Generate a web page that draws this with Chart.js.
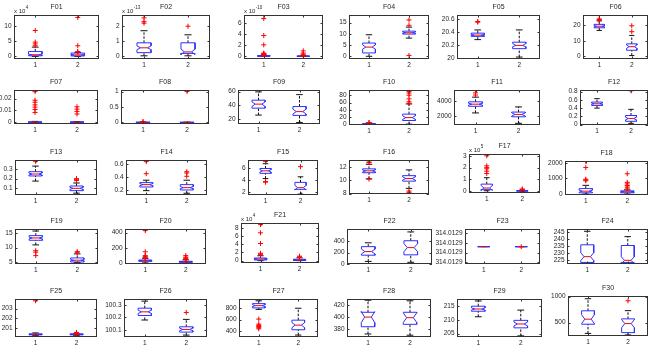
<!DOCTYPE html>
<html>
<head>
<meta charset="utf-8">
<script src="https://cdn.jsdelivr.net/npm/chart.js@4.4.1/dist/chart.umd.min.js"></script>
<style>
  html, body { margin: 0; padding: 0; background: #fff; }
  #fig { position: relative; width: 654px; height: 348px; overflow: hidden; }
  #fig canvas { position: absolute; }
</style>
</head>
<body>
<div id="fig"></div>
<script>
// ---- data ----
const titles = ['F01','F02','F03','F04','F05','F06','F07','F08','F09','F10',
                'F11','F12','F13','F14','F15','F16','F17','F18','F19','F20',
                'F21','F22','F23','F24','F25','F26','F27','F28','F29','F30'];
const groups = [1, 2];
const xTickLabels = ['1', '2'];
// "x 10^n" label above the axes (null = none)
const expLabels = ['4','-13','-10',null,null,null,
                   null,null,null,null,null,null,
                   null,null,null,null,'5',null,
                   null,null,'4',null,null,null,
                   null,null,null,null,null,null];
const yLimits = [
  [-0.85, 13.6], [-0.17, 2.74], [-0.48, 7.55], [-1.2, 18.4], [19.98, 20.661], [-1.7, 26.5],
  [-0.0014, 0.0272], [-0.05, 1.05], [13.1, 62.2], [-1.9, 94.4], [715, 5600], [-0.01, 0.84],
  [0.031, 0.393], [0.123, 0.66], [1.55, 7.42], [7.95, 13.1], [-0.14, 3.15], [-60, 2120],
  [4.3, 16.4], [-9, 446], [-0.57, 9.2], [0, 611], [314.0128883, 314.012924], [222.4, 247.2],
  [200.08, 203.98], [100.045, 100.347], [296, 962], [367, 430], [203.8, 217.5], [240, 1013]
];
const yTicks = [
  [0,5,10], [0,1,2], [0,2,4,6], [0,5,10,15], [20,20.2,20.4,20.6], [0,10,20],
  [0,0.01,0.02], [0,0.5,1], [20,40,60], [0,20,40,60,80], [2000,4000], [0,0.2,0.4,0.6,0.8],
  [0.1,0.2,0.3], [0.2,0.4,0.6], [2,4,6], [8,10,12], [0,1,2,3], [0,1000,2000],
  [5,10,15], [0,200,400], [0,2,4,6,8], [0,200,400], [314.01289,314.0129,314.01291,314.01292], [225,230,235,240,245],
  [201,202,203], [100.1,100.2,100.3], [400,600,800], [380,400,420], [205,210,215], [500,1000]
];
const tickDecimals = { F23: 4 };
// per panel, per group: [lower whisker, q1, notch low, median, notch high, q3, upper whisker]
const boxStats = [
  [[0, 0.2, 0.4, 0.55, 0.75, 1.6, 3.05], [0, 0.15, 0.3, 0.5, 0.65, 1.1, 1.3]],
  [[0.04, 0.25, 0.45, 0.57, 0.7, 0.9, 1.7], [0.04, 0.2, 0.12, 0.3, 0.48, 0.9, 1.43]],
  [[0, 0.02, 0.04, 0.06, 0.08, 0.12, 0.25], [0, 0.01, 0.02, 0.03, 0.04, 0.06, 0.12]],
  [[0, 1.5, 3.2, 4.1, 5.1, 5.9, 9.6], [8.1, 9.9, 10.2, 10.5, 10.8, 11.2, 13]],
  [[20.28, 20.33, 20.34, 20.35, 20.36, 20.38, 20.43], [20.01, 20.14, 20.17, 20.19, 20.22, 20.24, 20.43]],
  [[16.6, 18.3, 18.9, 19.3, 19.7, 20.5, 22.7], [0.5, 3.9, 5.1, 6.2, 7.3, 8, 13.4]],
  [[0, 0, 0, 0.0001, 0.0002, 0.0004, 0.0008], [0, 0, 0, 0.0001, 0.0002, 0.0004, 0.0007]],
  [[0, 0, 0, 0.003, 0.006, 0.008, 0.015], [0, 0, 0, 0.002, 0.004, 0.006, 0.012]],
  [[26, 36, 38.5, 41.8, 45, 47.5, 59.5], [15.3, 25.5, 27.5, 31, 34.5, 38.3, 55.5]],
  [[0, 0.3, 0.6, 1, 1.4, 2, 3.5], [0.5, 10.5, 13.5, 18.5, 23.5, 28, 56]],
  [[2400, 3330, 3500, 3620, 3740, 3950, 4600], [950, 1860, 1960, 2190, 2420, 2520, 3240]],
  [[0.4, 0.465, 0.49, 0.506, 0.522, 0.547, 0.63], [0.03, 0.08, 0.115, 0.147, 0.18, 0.22, 0.37]],
  [[0.175, 0.228, 0.238, 0.248, 0.258, 0.272, 0.33], [0.05, 0.076, 0.09, 0.1, 0.11, 0.124, 0.155]],
  [[0.19, 0.246, 0.266, 0.282, 0.298, 0.313, 0.35], [0.15, 0.2, 0.22, 0.236, 0.252, 0.282, 0.35]],
  [[4.3, 5.18, 5.4, 5.6, 5.8, 6.0, 6.8], [1.7, 2.5, 2.4, 2.78, 3.15, 3.67, 4.6]],
  [[10.25, 11.17, 11.3, 11.46, 11.6, 11.76, 12.45], [8.8, 9.9, 10.05, 10.3, 10.55, 10.73, 11.6]],
  [[0.05, 0.14, 0.08, 0.28, 0.5, 0.61, 1.15], [0, 0.02, 0.03, 0.04, 0.05, 0.06, 0.1]],
  [[0, 80, 120, 185, 250, 350, 560], [0, 80, 120, 145, 170, 205, 270]],
  [[10.9, 12.5, 13.0, 13.3, 13.6, 14.1, 15.7], [4.8, 5.0, 5.4, 5.6, 5.8, 6.4, 7.8]],
  [[5, 26, 30, 34, 38, 43, 65], [3, 13, 16, 19, 22, 26, 45]],
  [[0, 0.16, 0.3, 0.4, 0.5, 0.65, 1.2], [0, 0.05, 0.12, 0.2, 0.28, 0.35, 0.7]],
  [[45, 154, 175, 217, 260, 303, 370], [30, 160, 215, 286, 355, 406, 560]],
  [[314.012906, 314.012906, 314.012906, 314.012906, 314.012906, 314.012906, 314.012906],
   [314.012906, 314.012906, 314.012906, 314.012906, 314.012906, 314.012906, 314.012906]],
  [[222.8, 223.5, 224.8, 227.6, 230.4, 236, 245.6], [222, 223.5, 222.5, 225, 227.5, 235.5, 241.8]],
  [[200.25, 200.3, 200.33, 200.35, 200.37, 200.4, 200.5], [200.25, 200.3, 200.33, 200.35, 200.37, 200.4, 200.45]],
  [[100.18, 100.216, 100.232, 100.245, 100.258, 100.274, 100.33], [100.06, 100.084, 100.095, 100.105, 100.115, 100.126, 100.185]],
  [[780, 806, 830, 846, 862, 881, 930], [330, 423, 460, 504, 548, 591, 800]],
  [[372, 384, 391, 400, 409, 408, 428], [370, 388, 391, 399, 407, 408, 427]],
  [[211.1, 213.1, 213.5, 213.9, 214.3, 214.9, 216.8], [204.2, 207.1, 207.8, 208.5, 209.2, 209.8, 213.5]],
  [[290, 468, 480, 565, 650, 727, 960], [260, 305, 400, 480, 560, 571, 730]]
];
const outliers = [
  [[8.5, 4.7, 4.1, 3.5], [12.8, 3.5, 1.6, 1.4]],
  [[2.55, 2.3, 2.2], [2.0]],
  [[6.9, 3.8, 2.1, 0.6, 0.5, 0.4, 0.35], [1.0, 0.6, 0.4, 0.25]],
  [[], [16.2, 13.8, 0.4]],
  [[20.56, 20.55], []],
  [[24, 23.5, 23.1], [19.6, 15.8]],
  [[0.0258, 0.0186, 0.0169, 0.0147, 0.0128, 0.0108, 0.0083], [0.0131, 0.0111, 0.0092, 0.007]],
  [[0.025, 0.02], [1.0]],
  [[], []],
  [[5, 4.5], [90, 86, 80, 70, 62, 58]],
  [[5200, 4900], []],
  [[], [0.82]],
  [[0.38], [0.2, 0.19, 0.18]],
  [[0.635, 0.45], [0.48, 0.46, 0.41]],
  [[7.2, 3.8, 3.7], [6.3]],
  [[12.8, 12.7, 10.2], [8.4, 8.2]],
  [[3.0, 2.15, 2.0, 1.9, 1.7, 1.5], [0.2, 0.15]],
  [[2100, 1700, 950, 900, 850], [1300, 750, 650, 550, 450, 380]],
  [[8.9, 8.4, 7.2], [8.6, 8.2]],
  [[425, 150, 100, 90, 80, 70], [100, 80, 70, 60, 50]],
  [[8.8, 6.8, 4.2, 1.8, 1.6, 1.4], [1.1, 0.9]],
  [[], []],
  [[], [314.012906]],
  [[], []],
  [[203.8], [200.55, 200.5, 200.45]],
  [[], [100.24]],
  [[610, 520, 500, 480, 460, 440], []],
  [[], []],
  [[], []],
  [[], [920]]
];

// ---- layout: plot area of each panel in page pixels [left, top, right, bottom] ----
const panelRects = [
  [14, 15, 101, 59], [122, 15, 212, 59], [244, 15, 325, 59], [349, 15, 431, 59], [457, 15, 542, 59], [583, 15, 650, 59],
  [14, 90, 100, 124], [121, 90, 211, 124], [238, 90, 320, 124], [349, 90, 431, 125], [454, 90, 542, 125], [580, 90, 650, 125],
  [15, 160, 99, 195], [126, 160, 209, 195], [248, 160, 320, 195], [349, 160, 431, 194], [469, 154, 542, 193], [565, 161, 650, 195],
  [15, 229, 100, 264], [125, 229, 208, 264], [241, 223, 321, 263], [347, 229, 432, 264], [465, 229, 542, 264], [567, 229, 648, 264],
  [15, 299, 99, 337], [124, 299, 209, 337], [239, 299, 320, 337], [347, 299, 431, 337], [457, 299, 542, 337], [568, 296, 650, 336]
];
const PADL = 36, PADT = 15, PADR = 3, PADB = 11;
const BOX_W = 0.16, NOTCH_W = 0.08;
const FONT = '"Liberation Sans", Arial, Helvetica, sans-serif';
const TEXT = '#262626';

// frame, inward ticks, title and exponent label, MATLAB style
const panelFrame = {
  id: 'panelFrame',
  afterDraw(chart, args, opts) {
    const { ctx, chartArea: a, scales } = chart;
    ctx.save();
    ctx.strokeStyle = '#333';
    ctx.lineWidth = 1;
    ctx.strokeRect(a.left + 0.5, a.top + 0.5, a.right - a.left - 1, a.bottom - a.top - 1);
    ctx.beginPath();
    scales.y.ticks.forEach((t, i) => {
      const y = Math.round(scales.y.getPixelForTick(i)) + 0.5;
      ctx.moveTo(a.left, y); ctx.lineTo(a.left + 2.5, y);
      ctx.moveTo(a.right, y); ctx.lineTo(a.right - 2.5, y);
    });
    scales.x.ticks.forEach((t, i) => {
      const x = Math.round(scales.x.getPixelForTick(i)) + 0.5;
      ctx.moveTo(x, a.bottom); ctx.lineTo(x, a.bottom - 2.5);
      ctx.moveTo(x, a.top); ctx.lineTo(x, a.top + 2.5);
    });
    ctx.stroke();

    ctx.fillStyle = TEXT;
    ctx.textBaseline = 'alphabetic';
    ctx.textAlign = 'center';
    ctx.font = '7px ' + FONT;
    ctx.fillText(opts.title, (a.left + a.right) / 2, a.top - 6);
    if (opts.exp) {
      ctx.textAlign = 'left';
      ctx.font = '6px ' + FONT;
      ctx.fillText('x 10', a.left, a.top - 2.5);
      const w = ctx.measureText('x 10').width;
      ctx.font = '4.5px ' + FONT;
      ctx.fillText(opts.exp, a.left + w + 0.5, a.top - 6);
    }
    ctx.restore();
  }
};

function buildDatasets(p) {
  const box = [], med = [], whisk = [], caps = [], outl = [];
  groups.forEach((g, k) => {
    const [lo, q1, nlo, m, nhi, q3, hi] = boxStats[p][k];
    box.push(
      { x: g - BOX_W, y: q1 }, { x: g - BOX_W, y: nlo }, { x: g - NOTCH_W, y: m },
      { x: g - BOX_W, y: nhi }, { x: g - BOX_W, y: q3 }, { x: g + BOX_W, y: q3 },
      { x: g + BOX_W, y: nhi }, { x: g + NOTCH_W, y: m }, { x: g + BOX_W, y: nlo },
      { x: g + BOX_W, y: q1 }, { x: g - BOX_W, y: q1 }, { x: g, y: null });
    med.push({ x: g - NOTCH_W, y: m }, { x: g + NOTCH_W, y: m }, { x: g, y: null });
    whisk.push({ x: g, y: q3 }, { x: g, y: hi }, { x: g, y: null },
               { x: g, y: lo }, { x: g, y: q1 }, { x: g, y: null });
    caps.push({ x: g - NOTCH_W, y: hi }, { x: g + NOTCH_W, y: hi }, { x: g, y: null },
              { x: g - NOTCH_W, y: lo }, { x: g + NOTCH_W, y: lo }, { x: g, y: null });
    outliers[p][k].forEach(v => outl.push({ x: g, y: v }));
  });
  const line = (data, color, dash) => ({
    data, showLine: true, spanGaps: false, borderColor: color, borderWidth: 1,
    borderDash: dash || [], pointRadius: 0, tension: 0, fill: false
  });
  // first dataset is drawn on top
  return [
    { data: outl, pointStyle: 'cross', pointRadius: 2.5, borderColor: '#ff0000', borderWidth: 1, showLine: false },
    line(med, '#ff0000'),
    line(box, '#2f2fff'),
    line(caps, '#111'),
    line(whisk, '#111', [2.5, 1.5])
  ];
}

const fig = document.getElementById('fig');
titles.forEach((title, p) => {
  const [L, T, R, B] = panelRects[p];
  const cv = document.createElement('canvas');
  const W = R - L + PADL + PADR, H = B - T + PADT + PADB;
  cv.width = W; cv.height = H;
  cv.style.left = (L - PADL) + 'px';
  cv.style.top = (T - PADT) + 'px';
  cv.style.width = W + 'px';
  cv.style.height = H + 'px';
  fig.appendChild(cv);

  const dec = tickDecimals[title];
  new Chart(cv, {
    type: 'scatter',
    data: { datasets: buildDatasets(p) },
    options: {
      responsive: false,
      animation: false,
      events: [],
      devicePixelRatio: 1,
      layout: { padding: { top: PADT, right: PADR, left: 0, bottom: 0 } },
      plugins: {
        legend: { display: false },
        tooltip: { enabled: false },
        panelFrame: { title, exp: expLabels[p] }
      },
      scales: {
        x: {
          type: 'linear', min: 0.5, max: 2.5,
          afterBuildTicks: s => { s.ticks = groups.map(v => ({ value: v })); },
          afterFit: s => { s.height = PADB; },
          grid: { display: false, drawTicks: false },
          border: { display: false },
          ticks: {
            padding: 2, autoSkip: false, maxRotation: 0, color: TEXT,
            font: { family: FONT, size: 6.5 },
            callback: v => xTickLabels[groups.indexOf(v)]
          }
        },
        y: {
          type: 'linear', min: yLimits[p][0], max: yLimits[p][1],
          afterBuildTicks: s => { s.ticks = yTicks[p].map(v => ({ value: v })); },
          afterFit: s => { s.width = PADL; },
          grid: { display: false, drawTicks: false },
          border: { display: false },
          ticks: {
            padding: 2.5, autoSkip: false, color: TEXT,
            font: { family: FONT, size: 6.5 },
            callback: v => dec ? v.toFixed(dec) : String(+v.toPrecision(6))
          }
        }
      }
    },
    plugins: [panelFrame]
  });
});
</script>
</body>
</html>
